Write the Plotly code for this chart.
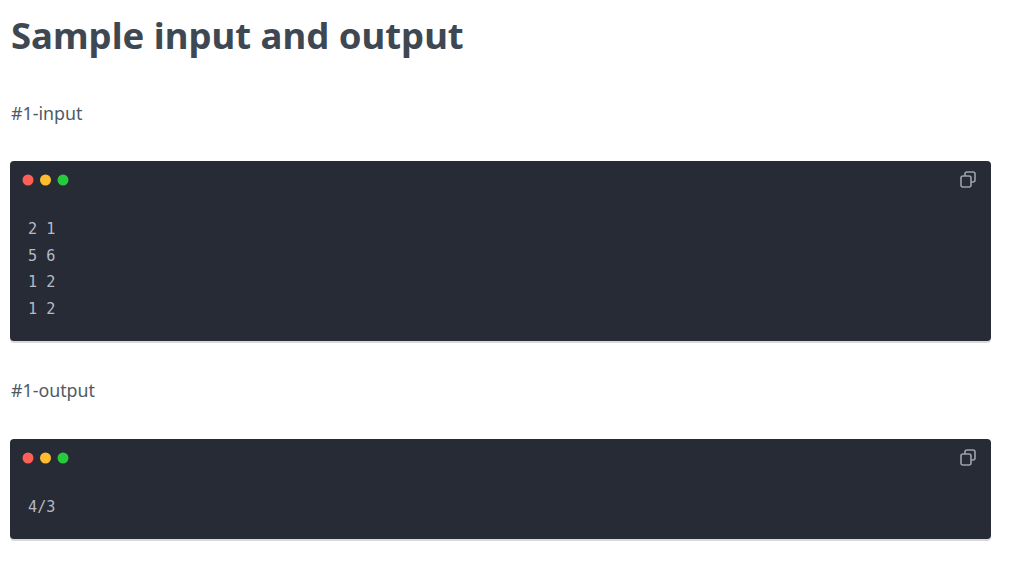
import plotly.graph_objects as go

# Page content
page_title = "Sample input and output"
block_labels = ["#1-input", "#1-output"]
input_lines = ["2 1", "5 6", "1 2", "1 2"]
output_lines = ["4/3"]
block_contents = [input_lines, output_lines]

# Window-button colours (red, yellow, green)
dot_colors = ["#ff5f56", "#ffbd2e", "#27c93f"]

W, H = 1023, 575
PAD = 8  # default body margin of the html page
BOX_BG = "#272b35"
TEXT_DARK = "#3d4852"
CODE_COLOR = "#b3bac5"


def rounded_rect(x0, y0, x1, y1, r):
    return (
        f"M{x0 + r},{y0} L{x1 - r},{y0} Q{x1},{y0} {x1},{y0 + r} "
        f"L{x1},{y1 - r} Q{x1},{y1} {x1 - r},{y1} L{x0 + r},{y1} "
        f"Q{x0},{y1} {x0},{y1 - r} L{x0},{y0 + r} Q{x0},{y0} {x0 + r},{y0} Z"
    )


fig = go.Figure()
shapes = []
annotations = []

# Heading
annotations.append(dict(
    x=9, y=35, text=f"<b>{page_title}</b>", showarrow=False,
    xanchor="left", yanchor="middle",
    font=dict(family="Noto Sans", size=36.5, color=TEXT_DARK),
))

block_tops = [161, 439]
label_ys = [113, 390]
line_step = 26.7

for label, lines, top, label_y in zip(block_labels, block_contents, block_tops, label_ys):
    annotations.append(dict(
        x=9, y=label_y, text=label, showarrow=False,
        xanchor="left", yanchor="middle",
        font=dict(family="Noto Sans", size=17.8, color="#4f5a65"),
    ))
    bottom = top + 68 + line_step * (len(lines) - 1) + 32
    # soft shadow + dark box
    shapes.append(dict(type="path", path=rounded_rect(10, top + 1, 991, bottom + 2, 4),
                       fillcolor="rgba(0,0,0,0.15)", line=dict(width=0), layer="below"))
    shapes.append(dict(type="path", path=rounded_rect(10, top, 991, bottom, 4),
                       fillcolor=BOX_BG, line=dict(width=0), layer="below"))
    # window dots
    fig.add_trace(go.Scatter(
        x=[28, 45.5, 63], y=[top + 19] * 3, mode="markers",
        marker=dict(size=11, color=dot_colors, line=dict(width=0)),
        hoverinfo="skip", showlegend=False,
    ))
    # copy icon
    ix, iy = 961, top + 15
    shapes.append(dict(type="path",
                       path=f"M{ix + 4},{iy} L{ix + 4},{iy - 2} Q{ix + 4},{iy - 4} {ix + 6},{iy - 4} "
                            f"L{ix + 12},{iy - 4} Q{ix + 14},{iy - 4} {ix + 14},{iy - 2} "
                            f"L{ix + 14},{iy + 4} Q{ix + 14},{iy + 6} {ix + 12},{iy + 6} L{ix + 10},{iy + 6}",
                       line=dict(color="#9aa3ae", width=1.6)))
    shapes.append(dict(type="path", path=rounded_rect(ix, iy, ix + 10, iy + 11, 2),
                       line=dict(color="#9aa3ae", width=1.6)))
    # code lines
    for i, txt in enumerate(lines):
        annotations.append(dict(
            x=26, y=top + 68 + line_step * i, text=txt.replace(" ", "&nbsp;"),
            showarrow=False, xanchor="left", yanchor="middle",
            font=dict(family="DejaVu Sans Mono", size=15.2, color=CODE_COLOR),
        ))

for s in shapes:
    s.setdefault("xref", "x")
    s.setdefault("yref", "y")
for a in annotations:
    a["xref"] = "x"
    a["yref"] = "y"

fig.update_layout(
    width=W - 2 * PAD, height=H - 2 * PAD,
    margin=dict(l=0, r=0, t=0, b=0),
    paper_bgcolor="white", plot_bgcolor="white",
    xaxis=dict(range=[PAD, W - PAD], visible=False, fixedrange=True),
    yaxis=dict(range=[H - PAD, PAD], visible=False, fixedrange=True),
    shapes=shapes, annotations=annotations,
    showlegend=False,
)

fig.write_html("out.html", config={"displayModeBar": False})
